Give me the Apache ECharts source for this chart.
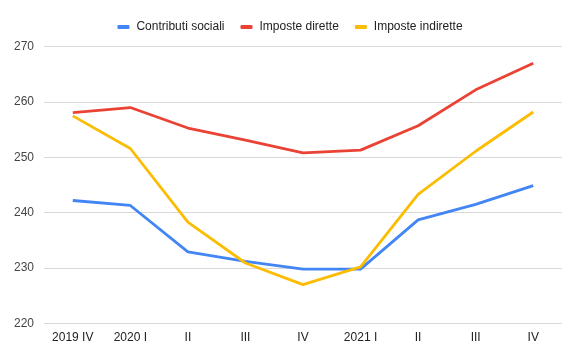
<!DOCTYPE html>
<html><head><meta charset="utf-8">
<script src="https://cdn.jsdelivr.net/npm/echarts@6/dist/echarts.min.js"></script>
<style>html,body{margin:0;padding:0;background:#fff}#c{width:580px;height:359px}</style>
</head><body><div id="c"></div>
<script>
const categories = ['2019 IV','2020 I','II','III','IV','2021 I','II','III','IV'];
const contributiSociali = [242.2, 241.3, 232.9, 231.2, 229.8, 229.8, 238.7, 241.5, 244.9];
const imposteDirette = [258.1, 259.0, 255.3, 253.1, 250.8, 251.3, 255.7, 262.2, 267.0];
const imposteIndirette = [257.5, 251.6, 238.3, 230.9, 227.0, 230.2, 243.3, 251.1, 258.2];
const yTicks = {min: 220, max: 270, interval: 10};

const chart = echarts.init(document.getElementById('c'), null, {renderer: 'canvas'});
const font = 'Arial, "Liberation Sans", sans-serif';
function s(name, data, color) {
  return {name, type: 'line', data, symbol: 'none', smooth: false,
    lineStyle: {color, width: 2.8}, itemStyle: {color}};
}
chart.setOption({
  animation: false,
  textStyle: {fontFamily: font},
  legend: {
    top: 16, left: 'center', itemWidth: 12, itemHeight: 4, itemGap: 16,
    icon: 'roundRect',
    textStyle: {fontSize: 12, color: '#222', fontFamily: font, padding: [0, 0, 0, 2]},
    data: ['Contributi sociali','Imposte dirette','Imposte indirette']
  },
  grid: {left: 44, right: 18, top: 46.7, bottom: 35.7, containLabel: false},
  xAxis: {
    type: 'category', data: categories, boundaryGap: true,
    axisLine: {show: false}, axisTick: {show: false},
    axisLabel: {color: '#222', fontSize: 12, margin: 8, fontFamily: font, interval: 0}
  },
  yAxis: {
    type: 'value', min: yTicks.min, max: yTicks.max, interval: yTicks.interval,
    axisLine: {show: false}, axisTick: {show: false},
    axisLabel: {color: '#444', fontSize: 12, margin: 10, fontFamily: font},
    splitLine: {lineStyle: {color: '#d9d9d9', width: 1}}
  },
  series: [
    s('Contributi sociali', contributiSociali, '#4285F4'),
    s('Imposte dirette', imposteDirette, '#EA4335'),
    s('Imposte indirette', imposteIndirette, '#FBBC04')
  ]
});
</script></body></html>
